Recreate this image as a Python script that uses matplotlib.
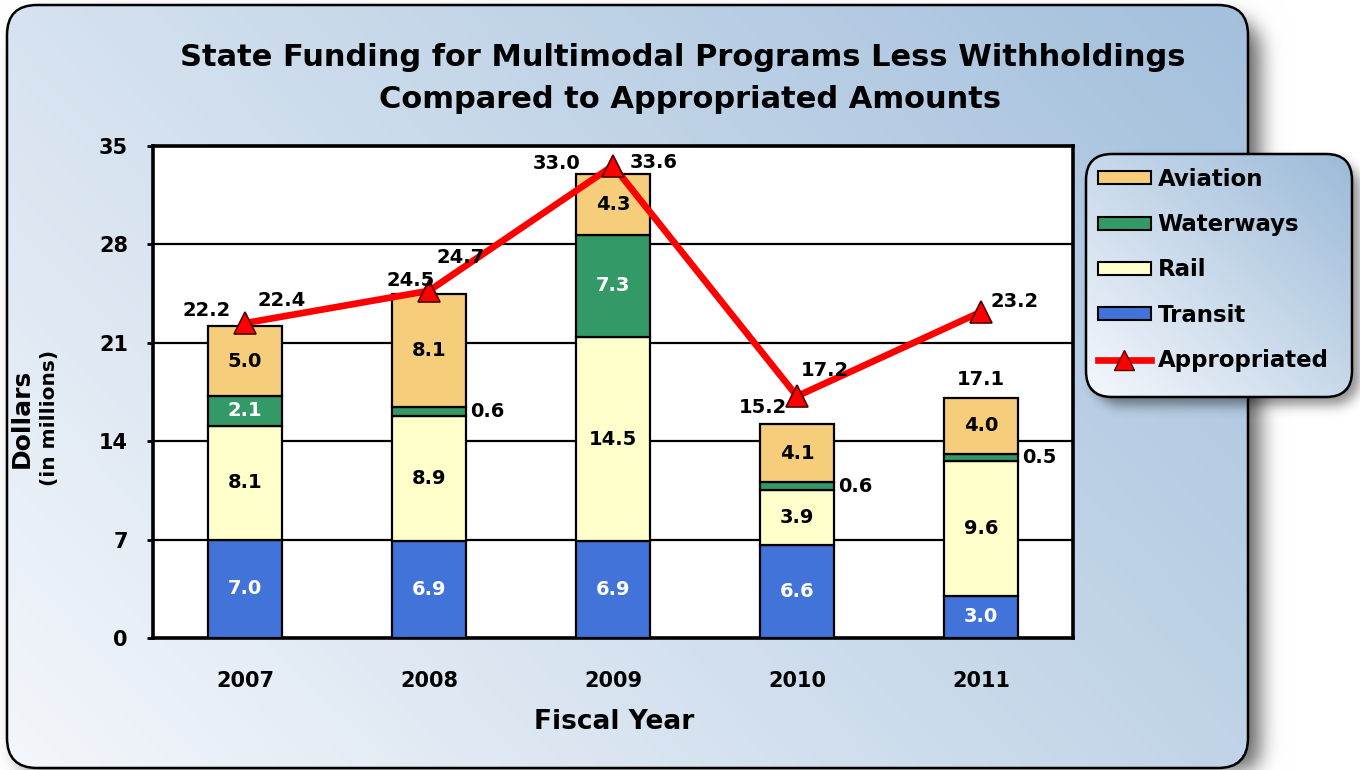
import numpy as np
import matplotlib
matplotlib.use("Agg")
import matplotlib.pyplot as plt
from matplotlib.patches import FancyBboxPatch, Patch
from matplotlib.lines import Line2D

# ---- data (millions of dollars) ----
years = ["2007", "2008", "2009", "2010", "2011"]
transit = [7.0, 6.9, 6.9, 6.6, 3.0]
rail = [8.1, 8.9, 14.5, 3.9, 9.6]
waterways = [2.1, 0.6, 7.3, 0.6, 0.5]
aviation = [5.0, 8.1, 4.3, 4.1, 4.0]
appropriated = [22.4, 24.7, 33.6, 17.2, 23.2]
y_ticks = [0, 7, 14, 21, 28, 35]

# ---- style ----
FONT = "DejaVu Sans"
C_TRANSIT = "#4173d9"
C_RAIL = "#ffffcc"
C_WATER = "#339966"
C_AVIATION = "#f5cd7b"
C_LINE = "#ff0000"

W, H = 1360, 770
fig = plt.figure(figsize=(W / 100, H / 100), dpi=100)


def rounded_mask(x0, y0, x1, y1, r, xx, yy):
    dx = np.maximum(np.maximum(x0 + r - xx, xx - (x1 - r)), 0)
    dy = np.maximum(np.maximum(y0 + r - yy, yy - (y1 - r)), 0)
    inside = (xx >= x0) & (xx <= x1) & (yy >= y0) & (yy <= y1)
    return (inside & ((dx ** 2 + dy ** 2) <= r ** 2)).astype(float)


def blur(a, sigma):
    k = np.arange(-3 * sigma, 3 * sigma + 1)
    g = np.exp(-k ** 2 / (2.0 * sigma ** 2))
    g /= g.sum()
    a = np.apply_along_axis(lambda r: np.convolve(r, g, mode="same"), 1, a)
    a = np.apply_along_axis(lambda c: np.convolve(c, g, mode="same"), 0, a)
    return a


def hex_rgb(h):
    h = h.lstrip("#")
    return np.array([int(h[i:i + 2], 16) / 255.0 for i in (0, 2, 4)])


yy, xx = np.mgrid[0:H, 0:W] + 0.5

# outer panel: drop shadow, then diagonal gradient
P = (7, 5, 1248, 768, 30)
img = np.ones((H, W, 3))
sh = blur(rounded_mask(P[0] + 12, P[1] + 14, P[2] + 12, P[3] + 10, P[4], xx, yy), 10) * 0.6
img *= (1 - sh[..., None])
m = rounded_mask(*P, xx, yy)
t = 0.65 * xx / W + 0.35 * (1 - yy / H)
c0, c1 = hex_rgb("#f4f7fb"), hex_rgb("#9ebcda")
grad = c0 + (c1 - c0) * t[..., None]
img = img * (1 - m[..., None]) + grad * m[..., None]

# legend panel as a separate RGBA layer drawn above the outer border
L = (1086, 154, 1352, 397, 26)
lsh = blur(rounded_mask(L[0] + 8, L[1] + 8, L[2] + 8, L[3] + 8, L[4], xx, yy), 6) * 0.45
lm = rounded_mask(*L, xx, yy)
t = 0.5 * (xx - L[0]) / (L[2] - L[0]) + 0.5 * (1 - (yy - L[1]) / (L[3] - L[1]))
t = np.clip(t, 0, 1)
c0, c1 = hex_rgb("#f5f8fc"), hex_rgb("#9bbad8")
lgrad = c0 + (c1 - c0) * t[..., None]
limg = np.zeros((H, W, 4))
limg[..., :3] = lgrad * lm[..., None]
limg[..., 3] = np.maximum(lm, lsh)

bg = fig.add_axes([0, 0, 1, 1], zorder=0)
bg.imshow(img, extent=(0, W, H, 0), interpolation="bilinear", aspect="auto", zorder=0)
bg.add_patch(FancyBboxPatch((P[0], P[1]), P[2] - P[0], P[3] - P[1],
                            boxstyle=f"round,pad=0,rounding_size={P[4]}",
                            fill=False, ec="black", lw=1.8, zorder=1))
bg.imshow(limg, extent=(0, W, H, 0), interpolation="bilinear", aspect="auto", zorder=2)
bg.add_patch(FancyBboxPatch((L[0], L[1]), L[2] - L[0], L[3] - L[1],
                            boxstyle=f"round,pad=0,rounding_size={L[4]}",
                            fill=False, ec="black", lw=1.8, zorder=3))
bg.set_xlim(0, W)
bg.set_ylim(H, 0)
bg.axis("off")

# titles
bg.text(683, 57, "State Funding for Multimodal Programs Less Withholdings",
        ha="center", va="center", fontsize=22, fontweight="bold", family=FONT)
bg.text(690, 100, "Compared to Appropriated Amounts",
        ha="center", va="center", fontsize=22, fontweight="bold", family=FONT)
bg.text(22, 418, "Dollars", rotation=90, ha="center", va="center",
        fontsize=18, fontweight="bold", family=FONT)
bg.text(50, 418, "(in millions)", rotation=90, ha="center", va="center",
        fontsize=14.5, fontweight="bold", family=FONT)
bg.text(614, 722, "Fiscal Year", ha="center", va="center",
        fontsize=19, fontweight="bold", family=FONT)

# ---- main plot ----
ax = fig.add_axes([153 / W, 1 - 638 / H, 920 / W, 492 / H], zorder=1)
ax.set_facecolor("white")
x = np.arange(len(years))
bw = 0.4

b0 = np.zeros(len(years))
b1 = b0 + np.array(transit)
b2 = b1 + np.array(rail)
b3 = b2 + np.array(waterways)
totals = b3 + np.array(aviation)

kw = dict(width=bw, edgecolor="black", linewidth=1.6, zorder=3)
ax.bar(x, transit, bottom=b0, color=C_TRANSIT, **kw)
ax.bar(x, rail, bottom=b1, color=C_RAIL, **kw)
ax.bar(x, waterways, bottom=b2, color=C_WATER, **kw)
ax.bar(x, aviation, bottom=b3, color=C_AVIATION, **kw)

ax.plot(x, appropriated, color=C_LINE, lw=4.8, marker="^", ms=16,
        mfc=C_LINE, mec="#500000", mew=1.2, zorder=5, solid_capstyle="butt")

lab = dict(ha="center", va="center", fontsize=14, fontweight="bold", family=FONT, zorder=6)

# segment values
for i in range(len(years)):
    ax.text(x[i], b0[i] + transit[i] / 2, f"{transit[i]:.1f}", color="white", **lab)
    ax.text(x[i], b1[i] + rail[i] / 2, f"{rail[i]:.1f}", color="black", **lab)
    ax.text(x[i], b3[i] + aviation[i] / 2, f"{aviation[i]:.1f}", color="black", **lab)
    if waterways[i] >= 1.5:
        ax.text(x[i], b2[i] + waterways[i] / 2, f"{waterways[i]:.1f}", color="white", **lab)
    else:
        ax.annotate(f"{waterways[i]:.1f}", (x[i] + bw / 2, b2[i] + waterways[i] / 2),
                    xytext=(4, 0), textcoords="offset pixels",
                    ha="left", va="center", fontsize=14, fontweight="bold",
                    family=FONT, zorder=6)

# totals and appropriated labels (pixel offsets)
total_off = [(-38, 15), (-18, 13), (-56, 11), (-34, 17), (0, 18)]
approp_off = [(37, 23), (32, 33), (41, 3), (28, 26), (34, 10)]
for i in range(len(years)):
    ax.annotate(f"{totals[i]:.1f}", (x[i], totals[i]), xytext=total_off[i],
                textcoords="offset pixels", ha="center", va="center",
                fontsize=14, fontweight="bold", family=FONT, zorder=6)
    ax.annotate(f"{appropriated[i]:.1f}", (x[i], appropriated[i]), xytext=approp_off[i],
                textcoords="offset pixels", ha="center", va="center",
                fontsize=14, fontweight="bold", family=FONT, zorder=6)

ax.set_xlim(-0.5, len(years) - 0.5)
ax.set_ylim(0, 35)
ax.set_yticks(y_ticks)
ax.set_yticklabels([str(v) for v in y_ticks])
ax.set_xticks(x)
ax.set_xticklabels(years)
ax.grid(axis="y", color="black", lw=1.6, zorder=0)
ax.set_axisbelow(True)
for s in ax.spines.values():
    s.set_linewidth(2.6)
    s.set_color("black")
ax.tick_params(axis="x", length=0, pad=24)
ax.tick_params(axis="y", length=4, width=2, pad=14)
for tl in ax.get_xticklabels() + ax.get_yticklabels():
    tl.set_fontsize(15)
    tl.set_fontweight("bold")
    tl.set_family(FONT)

# legend
handles = [
    Patch(facecolor=C_AVIATION, edgecolor="black", lw=1.5, label="Aviation"),
    Patch(facecolor=C_WATER, edgecolor="black", lw=1.5, label="Waterways"),
    Patch(facecolor=C_RAIL, edgecolor="black", lw=1.5, label="Rail"),
    Patch(facecolor=C_TRANSIT, edgecolor="black", lw=1.5, label="Transit"),
    Line2D([], [], color=C_LINE, lw=4.8, marker="^", ms=14, mfc=C_LINE,
           mec="#500000", mew=1.0, label="Appropriated"),
]
leg = ax.legend(handles=handles, loc="upper left",
                bbox_to_anchor=(1098 / W, 1 - 168 / H), bbox_transform=fig.transFigure,
                frameon=False, prop={"family": FONT, "weight": "bold", "size": 16.5},
                handlelength=2.3, handleheight=0.5, handletextpad=0.3,
                labelspacing=0.97, borderpad=0, borderaxespad=0)

fig.savefig("out.png", dpi=100)
